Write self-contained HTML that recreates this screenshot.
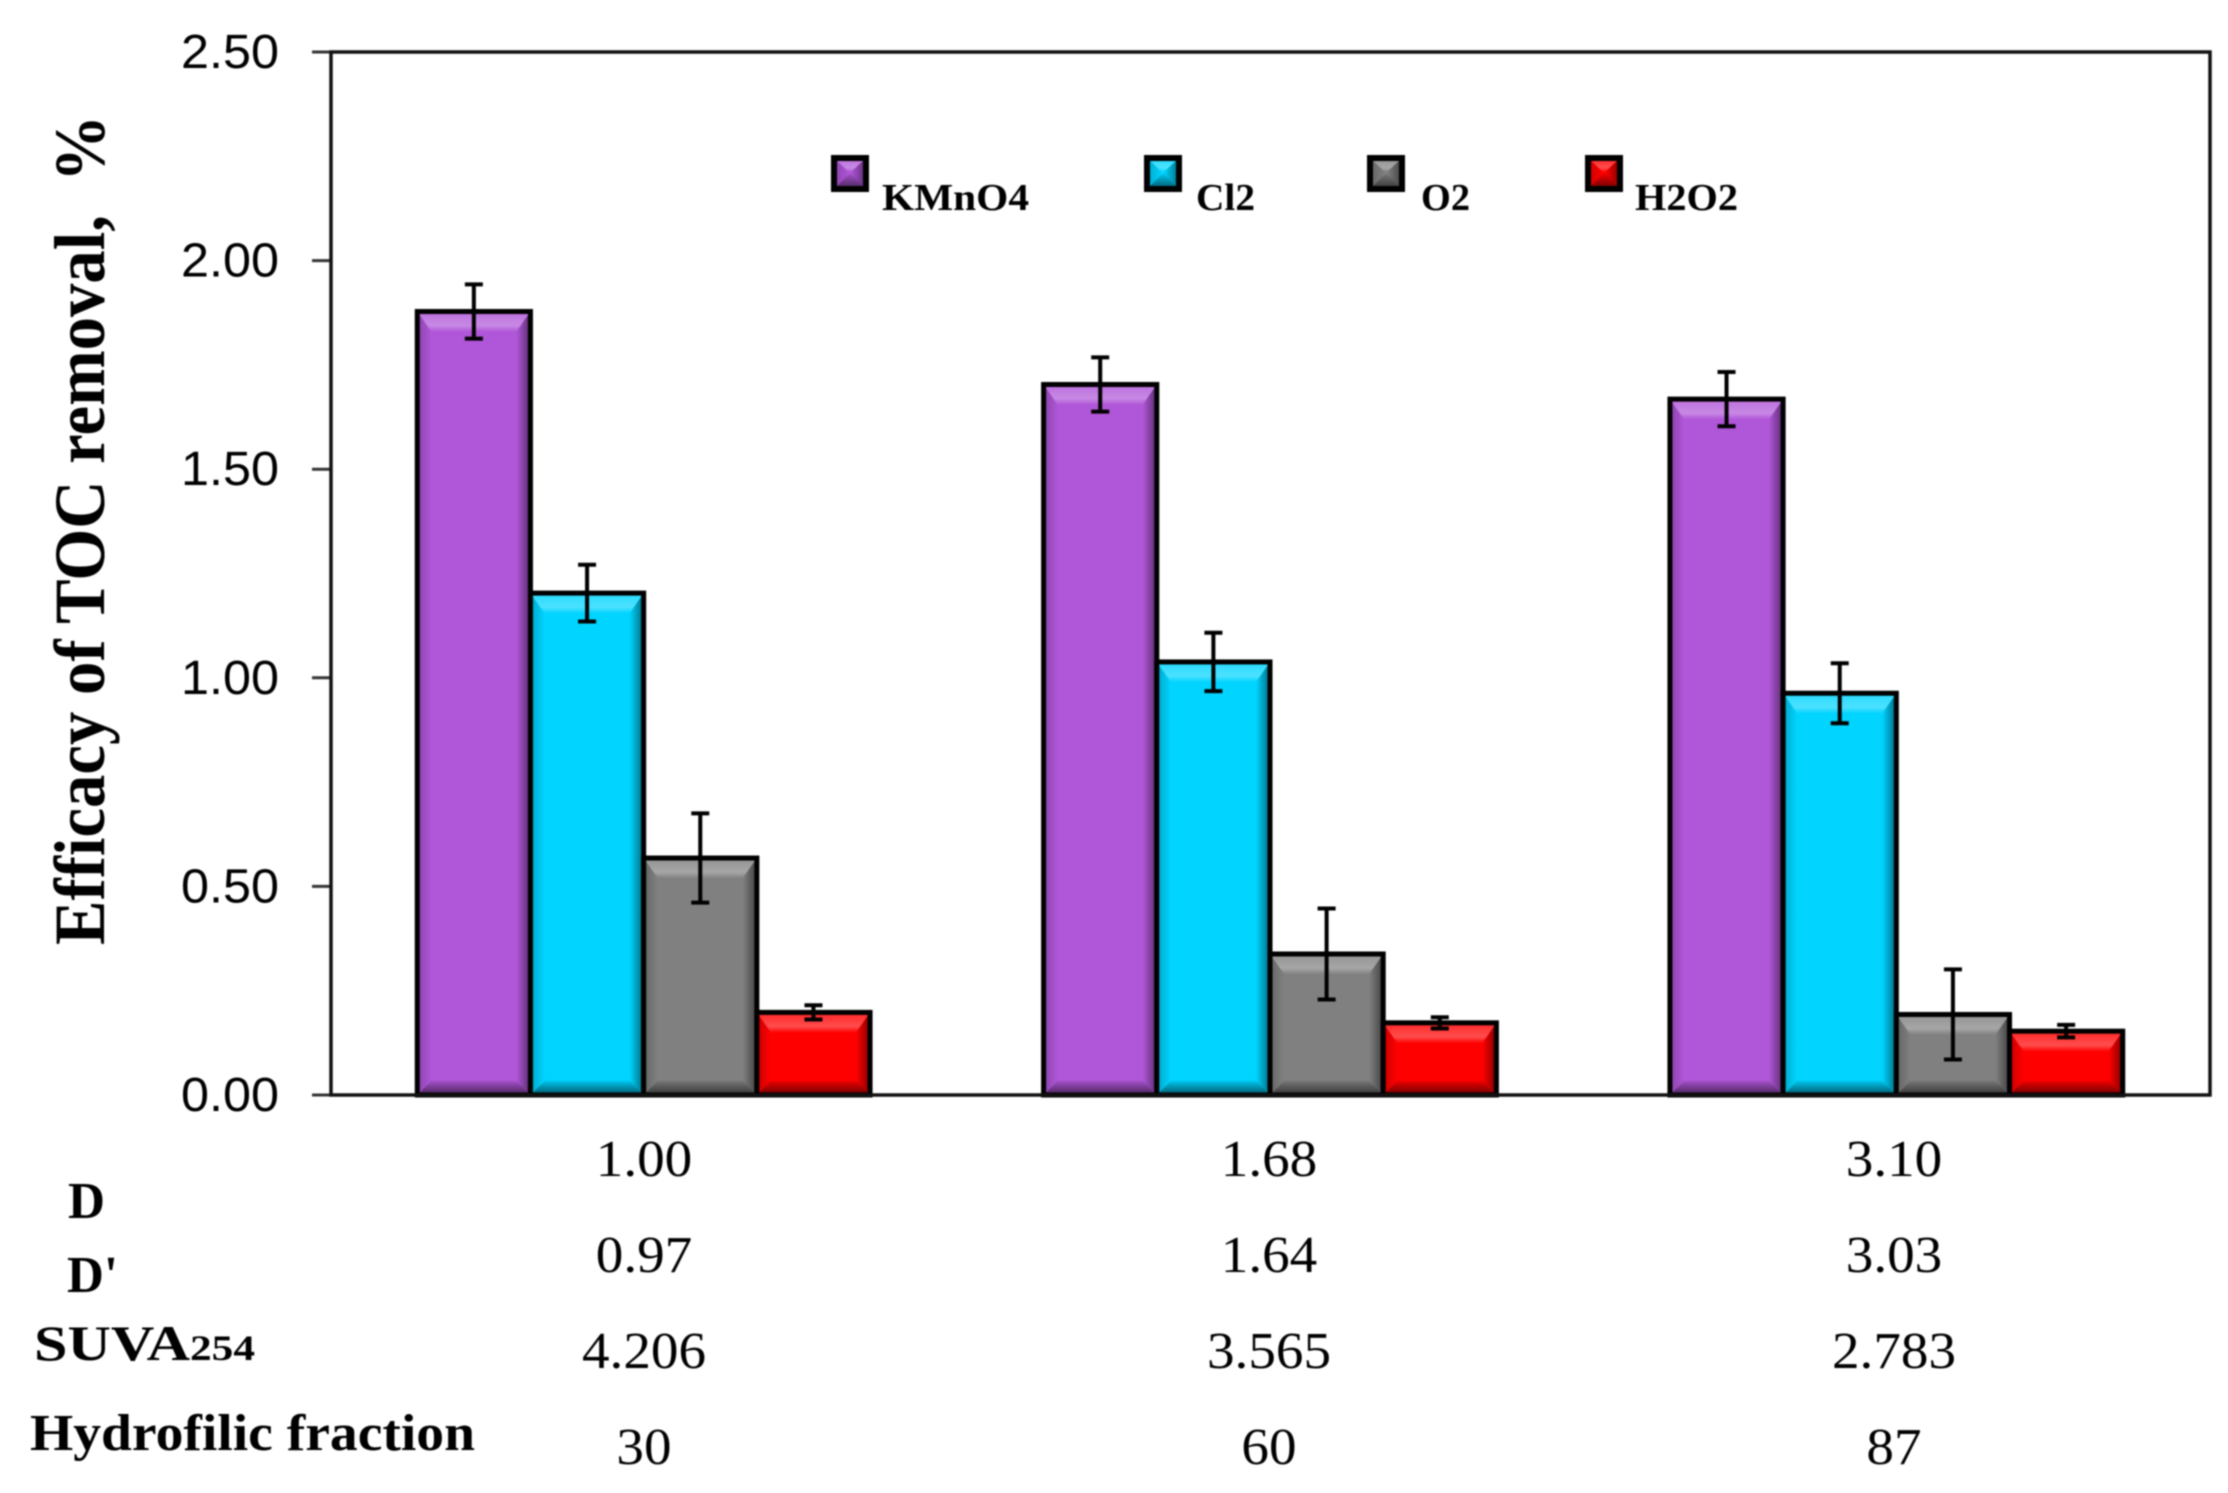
<!DOCTYPE html>
<html lang="en">
<head>
<meta charset="utf-8">
<title>Efficacy of TOC removal</title>
<style>
html,body{margin:0;padding:0;background:#fff;}
svg{display:block;}
.tick{font-family:"Liberation Sans",sans-serif;font-size:48px;fill:#000;}
.val{font-family:"Liberation Serif",serif;font-size:52px;fill:#000;}
.bold{font-family:"Liberation Serif",serif;font-weight:bold;fill:#000;}
</style>
</head>
<body>
<svg id="chart" xmlns="http://www.w3.org/2000/svg" width="2228" height="1493" viewBox="0 0 2228 1493">
  <defs>
    <linearGradient id="gTop" x1="0" y1="0" x2="0" y2="1">
      <stop offset="0" stop-color="#fff" stop-opacity="0.15"/>
      <stop offset="0.7" stop-color="#fff" stop-opacity="0.3"/>
      <stop offset="1" stop-color="#fff" stop-opacity="0.02"/>
    </linearGradient>
    <linearGradient id="gBottom" x1="0" y1="0" x2="0" y2="1">
      <stop offset="0" stop-color="#000" stop-opacity="0.08"/>
      <stop offset="1" stop-color="#000" stop-opacity="0.6"/>
    </linearGradient>
    <linearGradient id="gRight" x1="0" y1="0" x2="1" y2="0">
      <stop offset="0" stop-color="#000" stop-opacity="0"/>
      <stop offset="1" stop-color="#000" stop-opacity="0.5"/>
    </linearGradient>
    <linearGradient id="gLeft" x1="1" y1="0" x2="0" y2="0">
      <stop offset="0" stop-color="#000" stop-opacity="0"/>
      <stop offset="1" stop-color="#000" stop-opacity="0.22"/>
    </linearGradient>
  </defs>
  <rect x="0" y="0" width="2228" height="1493" fill="#fff"/>
  <g id="root" style="filter:blur(0.7px)">
    <g id="axes"></g>
    <g id="bars"></g>
    <g id="errors"></g>
    <g id="frame"></g>
    <g id="legend"></g>
    <g id="table"></g>
    <text class="bold" font-size="72" transform="translate(104,945) rotate(-90)" textLength="830" lengthAdjust="spacingAndGlyphs" xml:space="preserve">Efficacy of TOC removal,  %</text>
    <text class="bold" font-size="52" x="68" y="1218" textLength="37" lengthAdjust="spacingAndGlyphs">D</text>
    <text class="bold" font-size="52" x="67" y="1292" textLength="51" lengthAdjust="spacingAndGlyphs">D'</text>
    <text class="bold" font-size="50" x="34" y="1360" textLength="221" lengthAdjust="spacingAndGlyphs">SUVA<tspan font-size="36">254</tspan></text>
    <text class="bold" font-size="52" x="30" y="1450" textLength="445" lengthAdjust="spacingAndGlyphs">Hydrofilic fraction</text>
  </g>
</svg>
<script>
// ---- chart data ----
const seriesNames = ["KMnO4", "Cl2", "O2", "H2O2"];
const kmno4Values = [1.878, 1.703, 1.668];
const cl2Values = [1.203, 1.038, 0.963];
const o2Values = [0.568, 0.338, 0.193];
const h2o2Values = [0.198, 0.173, 0.153];
const kmno4Errors = [0.065, 0.065, 0.065];
const cl2Errors = [0.068, 0.07, 0.072];
const o2Errors = [0.107, 0.109, 0.108];
const h2o2Errors = [0.017, 0.0135, 0.015];
const yTicks = [0, 0.5, 1, 1.5, 2, 2.5];
const rowD = ["1.00", "1.68", "3.10"];
const rowDPrime = ["0.97", "1.64", "3.03"];
const rowSuva = ["4.206", "3.565", "2.783"];
const rowHydrofilic = ["30", "60", "87"];

const NS = "http://www.w3.org/2000/svg";
const plot = {left: 331, right: 2210, top: 52, bottom: 1095};
const yMax = 2.5;
const colors = ["#b056d8", "#00d4ff", "#808080", "#ff0000"];
const allValues = [kmno4Values, cl2Values, o2Values, h2o2Values];
const allErrors = [kmno4Errors, cl2Errors, o2Errors, h2o2Errors];
const groupCount = kmno4Values.length;
const groupWidth = (plot.right - plot.left) / groupCount;
const barWidth = 113.2;

function yScale(v) { return plot.bottom - (v / yMax) * (plot.bottom - plot.top); }
function groupCenter(i) { return plot.left + groupWidth * (i + 0.5); }
function barLeft(g, s) { return groupCenter(g) - 2 * barWidth + s * barWidth - 0.5; }

function make(parent, tag, attrs) {
  const el = document.createElementNS(NS, tag);
  for (const k in attrs) el.setAttribute(k, attrs[k]);
  parent.appendChild(el);
  return el;
}
function poly(parent, pts, fill) {
  const el = make(parent, "polygon", {points: pts.map(p => p.join(",")).join(" "), fill: fill});
  
  
  return el;
}
function bevel(parent, x, y, w, h, bx, topH, botH, color, sw) {
  const base = make(parent, "rect", {x: x, y: y, width: w, height: h, fill: color});
  
  
  poly(parent, [[x, y], [x + bx, y + topH], [x + bx, y + h - botH], [x, y + h]], "url(#gLeft)");
  poly(parent, [[x + w, y], [x + w - bx, y + topH], [x + w - bx, y + h - botH], [x + w, y + h]], "url(#gRight)");
  poly(parent, [[x, y], [x + w, y], [x + w - bx, y + topH], [x + bx, y + topH]], "url(#gTop)");
  poly(parent, [[x, y + h], [x + w, y + h], [x + w - bx, y + h - botH], [x + bx, y + h - botH]], "url(#gBottom)");
  const outline = make(parent, "rect", {x: x, y: y, width: w, height: h, fill: "none", stroke: "#000", "stroke-width": sw});
  
  
}

// axes
const axes = document.getElementById("axes");
yTicks.forEach(function (t) {
  const y = yScale(t);
  const tick = make(axes, "line", {x1: 312, x2: plot.left, y1: y, y2: y, stroke: "#333", "stroke-width": 3});
  
  
  const label = make(axes, "text", {x: 279, y: y + 16, "text-anchor": "end", "class": "tick", textLength: 98, lengthAdjust: "spacingAndGlyphs"});
  
  
  label.textContent = t.toFixed(2);
});

// bars
const barsG = document.getElementById("bars");
allValues.forEach(function (vals, s) {
  vals.forEach(function (v, g) {
    const bar = make(barsG, "g", {});
    
    
    const x = barLeft(g, s);
    const y = yScale(v);
    bevel(bar, x, y, barWidth, plot.bottom - y, 14, 20, 14, colors[s], 5);
  });
});

// error bars
const errG = document.getElementById("errors");
allValues.forEach(function (vals, s) {
  vals.forEach(function (v, g) {
    const cx = barLeft(g, s) + barWidth / 2;
    const yHi = yScale(v + allErrors[s][g]);
    const yLo = yScale(v - allErrors[s][g]);
    const eb = make(errG, "path", {
      d: "M" + cx + " " + yHi + "V" + yLo + "M" + (cx - 9) + " " + yHi + "H" + (cx + 9) + "M" + (cx - 9) + " " + yLo + "H" + (cx + 9),
      fill: "none", stroke: "#000", "stroke-width": 4
    });
    
    
  });
});

// frame
const frame = make(document.getElementById("frame"), "rect", {
  x: plot.left, y: plot.top, width: plot.right - plot.left, height: plot.bottom - plot.top,
  fill: "none", stroke: "#111", "stroke-width": 3.5
});



// legend
const legendG = document.getElementById("legend");
const legendSwatchX = [831, 1144, 1367, 1585];
const legendTextX = [882, 1196, 1421, 1635];
const legendTextW = [147, 59, 49, 103];
seriesNames.forEach(function (name, s) {
  const entry = make(legendG, "g", {});
  
  
  bevel(entry, legendSwatchX[s] + 3, 158, 32, 31, 15, 14, 15, colors[s], 6);
  const t = make(entry, "text", {x: legendTextX[s], y: 210, "class": "bold", "font-size": 38, textLength: legendTextW[s], lengthAdjust: "spacingAndGlyphs"});
  
  
  t.textContent = name;
});

// table values below the axis
const tableG = document.getElementById("table");
const rows = [rowD, rowDPrime, rowSuva, rowHydrofilic];
const rowBaselines = [1176, 1272, 1368, 1464];
const tableCenters = [644, 1269, 1894];
rows.forEach(function (row, r) {
  row.forEach(function (txt, c) {
    const t = make(tableG, "text", {x: tableCenters[c], y: rowBaselines[r], "text-anchor": "middle", "class": "val"});
    
    
    t.textContent = txt;
    t.setAttribute("textLength", (t.getComputedTextLength() * 1.06).toFixed(1));
    t.setAttribute("lengthAdjust", "spacingAndGlyphs");
  });
});
</script>
</body>
</html>
